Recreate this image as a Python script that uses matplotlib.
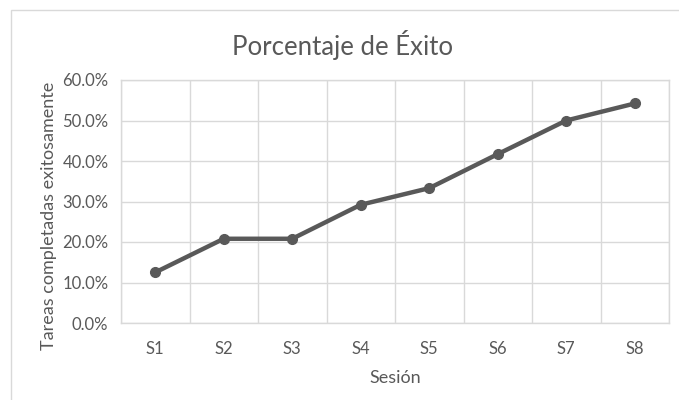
import matplotlib
matplotlib.use("Agg")
import matplotlib.pyplot as plt
from matplotlib.patches import Rectangle
from matplotlib.ticker import FuncFormatter, FixedLocator

# Session labels and success rate (%)
sessions = ["S1", "S2", "S3", "S4", "S5", "S6", "S7", "S8"]
success_pct = [12.5, 20.8, 20.8, 29.2, 33.3, 41.7, 50.0, 54.2]
y_ticks = [0, 10, 20, 30, 40, 50, 60]

title = "Porcentaje de Éxito"
x_label = "Sesión"
y_label = "Tareas completadas exitosamente"

text_color = "#595959"
grid_color = "#d9d9d9"
line_color = "#595959"

plt.rcParams["font.family"] = ["Lato", "DejaVu Sans"]

fig = plt.figure(figsize=(6.79, 4.0), dpi=100)
fig.patch.set_facecolor("white")

# chart frame (left and top edges visible)
fig.add_artist(Rectangle((11 / 679, -0.1), 1.2, (400 - 10) / 400 + 0.1,
                         transform=fig.transFigure, fill=False,
                         edgecolor=grid_color, linewidth=1.0))

ax = fig.add_axes([121 / 679, 77 / 400, (669 - 121) / 679, (323 - 80) / 400])

x = list(range(1, len(sessions) + 1))
ax.plot(x, success_pct, color=line_color, linewidth=3.2, marker="o",
        markersize=7, markerfacecolor=line_color, markeredgecolor=line_color,
        solid_capstyle="round", zorder=3)

ax.set_xlim(0.5, len(sessions) + 0.5)
ax.set_ylim(0, 60)

ax.set_xticks(x)
ax.set_xticklabels(sessions)
ax.xaxis.set_minor_locator(FixedLocator([i + 0.5 for i in range(0, len(sessions) + 1)]))
ax.set_yticks(y_ticks)
ax.yaxis.set_major_formatter(FuncFormatter(lambda v, p: f"{v:.1f}%"))

ax.grid(which="minor", axis="x", color=grid_color, linewidth=1.0)
ax.grid(which="major", axis="y", color=grid_color, linewidth=1.0)
ax.set_axisbelow(True)

for s in ax.spines.values():
    s.set_color(grid_color)
    s.set_linewidth(1.0)

ax.tick_params(which="both", length=0, colors=text_color, labelsize=12)
ax.tick_params(axis="x", pad=13)
ax.tick_params(axis="y", pad=9)

fig.text(342 / 679, 1 - 45 / 400, title, color=text_color, fontsize=18.5,
         ha="center", va="center")
ax.set_xlabel(x_label, color=text_color, fontsize=13, labelpad=9)
ax.set_ylabel(y_label, color=text_color, fontsize=13)
ax.yaxis.set_label_coords(-0.117, 0.44)

fig.savefig("out.png", dpi=100, facecolor="white")
